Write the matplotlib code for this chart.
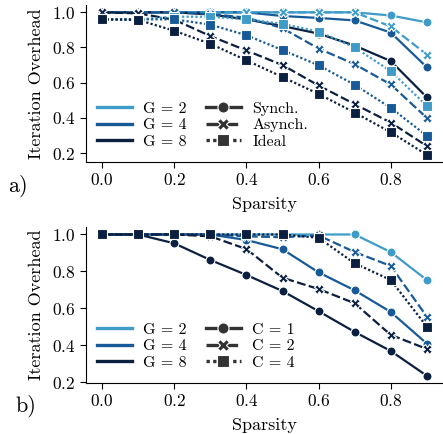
import matplotlib
matplotlib.use("Agg")
import matplotlib.pyplot as plt
from matplotlib.lines import Line2D

plt.rcParams["font.family"] = "cmr10"
plt.rcParams["mathtext.fontset"] = "cm"
plt.rcParams["axes.formatter.use_mathtext"] = True
plt.rcParams["font.size"] = 13

sparsity = [0.0, 0.1, 0.2, 0.3, 0.4, 0.5, 0.6, 0.7, 0.8, 0.9]
groups = ["G = 2", "G = 4", "G = 8"]
colors = ["#3f9cc8", "#185a98", "#0b1f40"]

# (a) synchronous / asynchronous / ideal overhead per group size
sync_a = [
    [1.0, 1.0, 1.0, 1.0, 1.0, 1.0, 1.0, 1.0, 0.982, 0.943],
    [1.0, 1.0, 1.0, 1.0, 1.0, 0.979, 0.968, 0.954, 0.885, 0.688],
    [1.0, 1.0, 1.0, 0.988, 0.96, 0.922, 0.879, 0.811, 0.723, 0.517],
]
async_a = [
    [1.0, 1.0, 1.0, 1.0, 1.0, 1.0, 1.0, 1.0, 0.92, 0.76],
    [1.0, 1.0, 1.0, 0.99, 0.97, 0.91, 0.794, 0.705, 0.59, 0.40],
    [1.0, 0.994, 0.958, 0.865, 0.783, 0.70, 0.584, 0.478, 0.373, 0.24],
]
ideal_a = [
    [0.96, 0.96, 0.975, 0.975, 0.96, 0.935, 0.89, 0.80, 0.666, 0.468],
    [0.96, 0.96, 0.96, 0.93, 0.87, 0.785, 0.699, 0.588, 0.457, 0.298],
    [0.96, 0.957, 0.895, 0.821, 0.727, 0.632, 0.536, 0.43, 0.318, 0.19],
]

# (b) overhead for C = 1, 2, 4 per group size (only C <= G / 2 was run)
c1_b = [
    [1.0, 1.0, 1.0, 1.0, 1.0, 1.0, 1.0, 1.0, 0.905, 0.754],
    [1.0, 1.0, 1.0, 1.0, 0.97, 0.92, 0.795, 0.698, 0.581, 0.41],
    [1.0, 1.0, 0.952, 0.862, 0.781, 0.694, 0.585, 0.473, 0.37, 0.236],
]
c2_b = [
    None,
    [1.0, 1.0, 1.0, 1.0, 0.99, 0.985, 0.995, 0.905, 0.83, 0.556],
    [1.0, 1.0, 1.0, 0.99, 0.921, 0.766, 0.705, 0.628, 0.457, 0.381],
]
c4_b = [
    None,
    None,
    [1.0, 1.0, 1.0, 1.0, 1.0, 1.0, 0.982, 0.844, 0.754, 0.502],
]

styles = [("-", "o"), ((0, (4, 1.5)), "X"), ((0, (1, 1)), "s")]


def draw_panel(ax, series, style_names):
    for values, (ls, marker) in zip(series, styles):
        for i in range(len(groups)):
            if values[i] is None:
                continue
            ax.plot(
                sparsity,
                values[i],
                color=colors[i],
                linestyle=ls,
                marker=marker,
                markersize=6.5,
                markeredgecolor="white",
                markeredgewidth=0.8,
                linewidth=1.6,
            )
    for side in ["top", "right"]:
        ax.spines[side].set_visible(False)
    ax.set_xticks([0.0, 0.2, 0.4, 0.6, 0.8])
    ax.set_yticks([0.2, 0.4, 0.6, 0.8, 1.0])
    ax.set_xlabel("Sparsity", labelpad=6)
    ax.set_ylabel("Iteration Overhead", labelpad=6)
    ax.tick_params(length=4, labelsize=12.5)

    handles = [Line2D([], [], color=c, linewidth=2.4) for c in colors]
    handles += [
        Line2D([], [], color="#333333", linestyle=ls, marker=m, markersize=8,
               markeredgecolor="white", markeredgewidth=0.8, linewidth=2.4)
        for ls, m in styles
    ]
    ax.legend(handles, groups + style_names, ncol=2, loc="lower left",
              frameon=False, bbox_to_anchor=(-0.01, -0.01), fontsize=11.5,
              handlelength=2.2, labelspacing=0.15, columnspacing=1.2,
              handletextpad=0.7)


fig = plt.figure(figsize=(4.43, 4.34), dpi=100)
ax_a = fig.add_axes([0.194, 0.627, 0.806, 0.361])
ax_b = fig.add_axes([0.194, 0.118, 0.806, 0.358])

draw_panel(ax_a, [sync_a, async_a, ideal_a], ["Synch.", "Asynch.", "Ideal"])
draw_panel(ax_b, [c1_b, c2_b, c4_b], ["C = 1", "C = 2", "C = 4"])

fig.text(0.018, 0.572, "a)", fontsize=16, ha="left", va="center")
fig.text(0.035, 0.065, "b)", fontsize=16, ha="left", va="center")

fig.savefig("out.png", dpi=100)
